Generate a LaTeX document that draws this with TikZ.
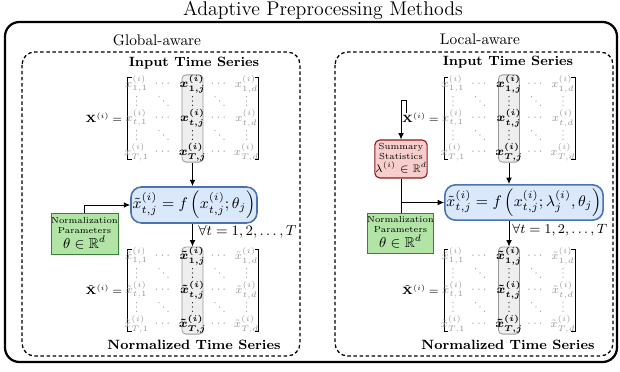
\RequirePackage{fix-cm}
\documentclass[tikz,border=0pt]{standalone}
\usepackage{amsmath,amssymb}
\usetikzlibrary{arrows.meta,calc}
\definecolor{fblue}{HTML}{DAE8FC}
\definecolor{dblue}{HTML}{4C72B0}
\definecolor{lgreen}{HTML}{B2E4A6}
\definecolor{dgreen}{HTML}{3A803A}
\definecolor{lred}{HTML}{F8CECC}
\definecolor{dred}{HTML}{8B1A1A}
\definecolor{colfill}{HTML}{EEEEEE}
\definecolor{colgray}{HTML}{999999}
\definecolor{entgray}{HTML}{969696}
\newcommand\fs[2]{\fontsize{#1}{#2}\selectfont}
% vertical and diagonal dots drawn as small discs
\newcommand\vdt[3]{\fill[#3] (#1,#2-4.3) circle (0.42pt) (#1,#2) circle (0.42pt) (#1,#2+4.3) circle (0.42pt);}
\newcommand\ddt[3]{\fill[#3] (#1-4.5,#2-4.3) circle (0.42pt) (#1,#2) circle (0.42pt) (#1+4.5,#2+4.3) circle (0.42pt);}
\newcommand\tsmat[5]{%
\begin{scope}[shift={(#2,#3)}]
 \node[colbox] (#1-col) at (0,0.5) {};
 \draw[brk] (-61,-41) -- (-65,-41) -- (-65,41) -- (-61,41);
 \draw[brk] (62,-41) -- (66,-41) -- (66,41) -- (62,41);
 \node[lab, anchor=east] (#1-lab) at (-70,0) {$#5^{(i)}\mkern-1mu=$};
 \node[gent] (#1-11) at (-56,-34) {$#4^{(i)}_{1,1}$};
 \node[gent] (#1-12) at (-29,-34) {$\cdots$};
 \node[bent] (#1-13) at (0,-34) {$#4^{(i)}_{1,j}$};
 \node[gent] (#1-14) at (27,-34) {$\cdots$};
 \node[gent] (#1-15) at (54,-34) {$#4^{(i)}_{1,d}$};
 \vdt{-56}{-17}{entgray}\ddt{-29}{-17}{entgray}\vdt{0}{-17}{black}\ddt{27}{-17}{entgray}\vdt{54}{-17}{entgray}
 \node[gent] (#1-31) at (-56,0) {$#4^{(i)}_{t,1}$};
 \node[gent] (#1-32) at (-29,0) {$\cdots$};
 \node[bent] (#1-33) at (0,0) {$#4^{(i)}_{t,j}$};
 \node[gent] (#1-34) at (27,0) {$\cdots$};
 \node[gent] (#1-35) at (54,0) {$#4^{(i)}_{t,d}$};
 \vdt{-56}{17}{entgray}\ddt{-29}{17}{entgray}\vdt{0}{17}{black}\ddt{27}{17}{entgray}\vdt{54}{17}{entgray}
 \node[gent] (#1-51) at (-56,34) {$#4^{(i)}_{T,1}$};
 \node[gent] (#1-52) at (-29,34) {$\cdots$};
 \node[bent] (#1-53) at (0,34) {$#4^{(i)}_{T,j}$};
 \node[gent] (#1-54) at (27,34) {$\cdots$};
 \node[gent] (#1-55) at (54,34) {$#4^{(i)}_{T,d}$};
\end{scope}}
\newcommand\boxtext[4]{{\fs{5.5}{6.3}\begin{tabular}{@{}c@{}}#1\\#2\\[-0.6pt]\fs{#4}{10}#3\end{tabular}}}
\begin{document}
\begin{tikzpicture}[x=0.625pt,y=-0.625pt,
  outerbox/.style={draw, line width=1.4pt, rounded corners=9pt},
  panelbox/.style={draw, line width=0.8pt, dash pattern=on 2.2pt off 1.6pt, rounded corners=8pt},
  colbox/.style={draw=colgray, fill=colfill, rounded corners=2.5pt, minimum width=13.2pt, minimum height=54.5pt, inner sep=0pt, line width=0.5pt},
  brk/.style={line width=0.55pt},
  gent/.style={text=entgray, font=\fs{7}{8}, inner sep=0pt},
  bent/.style={text=black, font=\fs{7.5}{9}\boldmath, inner sep=0pt},
  lab/.style={font=\fs{6.6}{9}, inner sep=0pt},
  hdr/.style={font=\fs{8.4}{10}\bfseries, inner sep=0pt},
  fbox/.style={draw=dblue, fill=fblue, line width=1pt, rounded corners=6.5pt, inner sep=1pt, font=\fs{9.6}{12}},
  pbox/.style={draw=dgreen, fill=lgreen, line width=0.6pt, align=center, inner sep=0pt},
  sbox/.style={draw=dred, fill=lred, line width=0.7pt, rounded corners=3pt, align=center, inner sep=0pt},
  arr/.style={-{Latex[length=4pt,width=3.6pt]}, line width=0.6pt},
  con/.style={line width=0.6pt},
  ]
\useasboundingbox (0,0) rectangle (620,372);
\node[font=\fs{12.4}{14}, inner sep=0pt] (title) at (323,10) {Adaptive Preprocessing Methods};
\draw[outerbox] (5,22) rectangle (617,362);
% ---------- left panel
\node[font=\fs{9.6}{11}, inner sep=0pt] (gaw) at (157,40) {Global-aware};
\draw[panelbox] (22,52) rectangle (300,356);
\node[hdr] (inLh) at (194,63) {Input Time Series};
\tsmat{inL}{192.5}{118}{x}{\mathbf{X}}
\node[fbox, minimum width=76pt, minimum height=22.5pt] (fL) at (194,205)
  {$\tilde{x}^{(i)}_{t,j} = f\left(x^{(i)}_{t,j};\theta_j\right)$};
\node[pbox, minimum width=41.9pt, minimum height=26.2pt] (gL) at (84.5,234)
  {\boxtext{Normalization}{Parameters}{$\theta\in\mathbb{R}^d$}{9}};
\tsmat{outL}{192.5}{290}{\tilde{x}}{\tilde{\mathbf{X}}}
\node[hdr] (outLh) at (194,345) {Normalized Time Series};
\draw[arr] (inL-col.south) -- (inL-col.south |- fL.north);
\draw[arr] (gL.north) |- (fL.west);
\draw[arr] (fL.south -| outL-col) -- (outL-col.north);
\node[font=\fs{9}{11}, anchor=west, inner sep=0pt] (faL) at (198,232) {$\forall t = 1, 2, \ldots, T$};
% ---------- right panel
\node[font=\fs{9.6}{11}, inner sep=0pt] (law) at (480,39) {Local-aware};
\draw[panelbox] (335,52) rectangle (613,356);
\node[hdr] (inRh) at (508,62) {Input Time Series};
\tsmat{inR}{509}{118}{x}{\mathbf{X}}
\node[sbox, minimum width=31.2pt, minimum height=23.7pt] (sR) at (401,159)
  {\boxtext{Summary}{Statistics}{$\lambda^{(i)}\in\mathbb{R}^d$}{6.8}};
\node[fbox, minimum width=95pt, minimum height=22pt] (fR) at (524,202.5)
  {$\tilde{x}^{(i)}_{t,j} = f\left(x^{(i)}_{t,j};\lambda^{(i)}_j,\theta_j\right)$};
\node[pbox, minimum width=40.6pt, minimum height=25pt] (gR) at (400.5,233)
  {\boxtext{Normalization}{Parameters}{$\theta\in\mathbb{R}^d$}{9}};
\tsmat{outR}{509}{290}{\tilde{x}}{\tilde{\mathbf{X}}}
\node[hdr] (outRh) at (508,345) {Normalized Time Series};
\coordinate (xtop) at ($(inR-lab.north west)+(5,0)$);
\draw[arr] (xtop) -- ++(0,-12) -| (sR.north);
\draw[con] (sR.south) -- (sR.south |- gR.north);
\draw[arr] (sR.south |- fR.west) -- (fR.west);
\draw[arr] (inR-col.south) -- (inR-col.south |- fR.north);
\draw[arr] (fR.south -| outR-col) -- (outR-col.north);
\node[font=\fs{8.4}{11}, anchor=west, inner sep=0pt] (faR) at (512,230) {$\forall t = 1, 2, \ldots, T$};
\end{tikzpicture}
\end{document}
